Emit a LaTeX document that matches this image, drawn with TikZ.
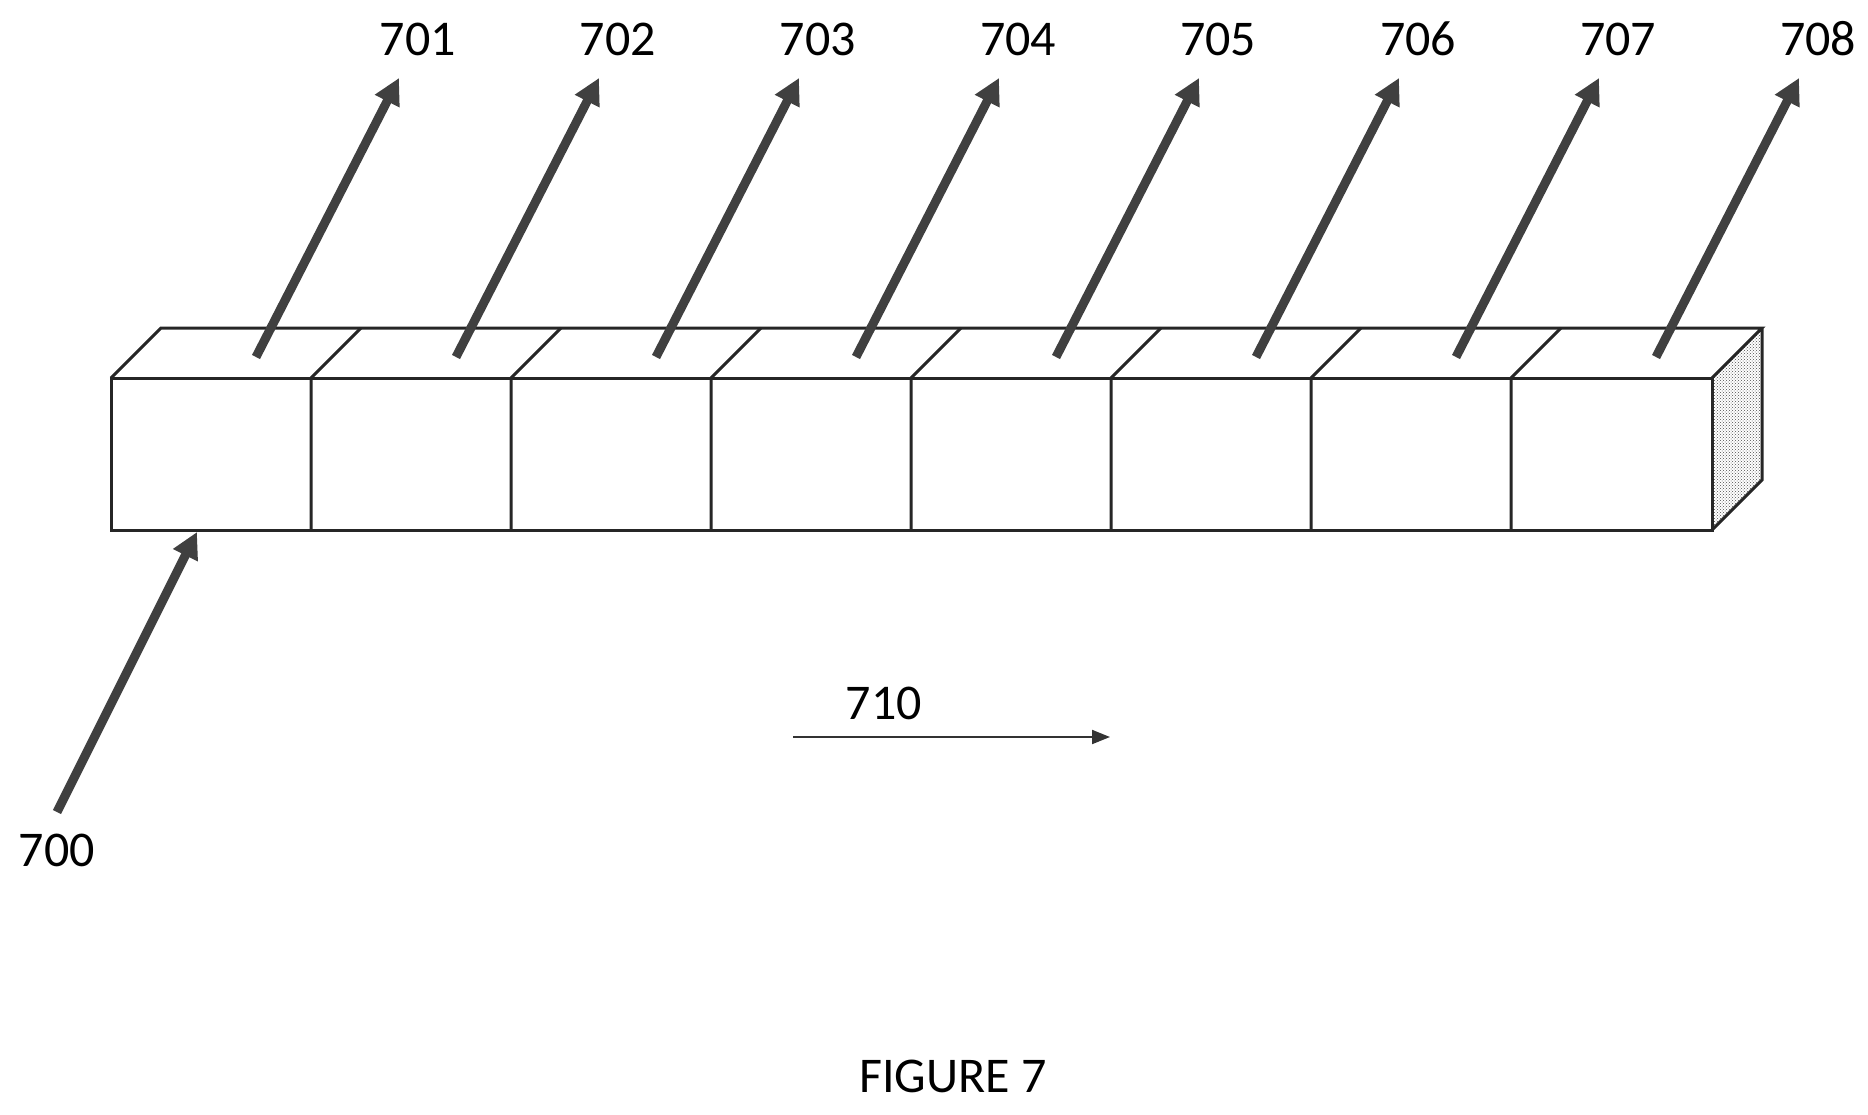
\documentclass[tikz,border=0pt]{standalone}
\usepackage{fontspec}
\setmainfont{Carlito}
\usetikzlibrary{arrows.meta,patterns}
\begin{document}
\begin{tikzpicture}[x=1pt,y=-1pt,
  edge/.style={line width=3pt,draw=black!85},
  big/.style={line width=9pt,draw=black!75,-{Triangle[length=26pt,width=26pt]}},
  lbl/.style={font=\fontsize{50}{56}\selectfont}]
\useasboundingbox (0,0) rectangle (1868,1114);
% box
\coordinate (fa) at (111,378); \coordinate (fb) at (1712,378);
\coordinate (fc) at (1712,530); \coordinate (fd) at (111,530);
\coordinate (ba) at (161,328); \coordinate (bb) at (1762,328); \coordinate (bc) at (1762,480);
\fill[pattern=crosshatch dots,pattern color=black!70] (fb)--(bb)--(bc)--(fc)--cycle;
\draw[edge,fill=white] (fa)--(fb)--(fc)--(fd)--cycle;
\draw[edge] (fa)--(ba)--(bb)--(fb) (bb)--(bc)--(fc);
\foreach \i in {1,...,7}{
  \coordinate (d\i) at ({111+200*\i},378);
  \coordinate (e\i) at ({161+200*\i},328);
  \coordinate (g\i) at ({111+200*\i},530);
  \draw[edge] (d\i)--(g\i) (d\i)--(e\i);
}
% output arrows
\foreach \i/\t in {0/701,1/702,2/703,3/704,4/705,5/706,6/707,7/708}{
  \coordinate (s\i) at ({256+200*\i},357);
  \coordinate (t\i) at ({399+200*\i},78);
  \draw[big] (s\i)--(t\i);
  \node[lbl] (l\i) at ({418+200*\i},39) {\t};
}
% input arrow
\coordinate (in0) at (57,812);
\coordinate (in1) at (197,532);
\draw[big] (in0)--(in1);
\node[lbl] (l700) at (57,850) {700};
% direction arrow
\coordinate (da) at (793,737); \coordinate (db) at (1110,737);
\draw[line width=2pt,draw=black!80,-{Triangle[length=18pt,width=14pt]}] (da)--(db);
\node[lbl] (l710) at (884,703) {710};
\node[lbl] (fig) at (953,1076) {FIGURE 7};
\end{tikzpicture}
\end{document}
